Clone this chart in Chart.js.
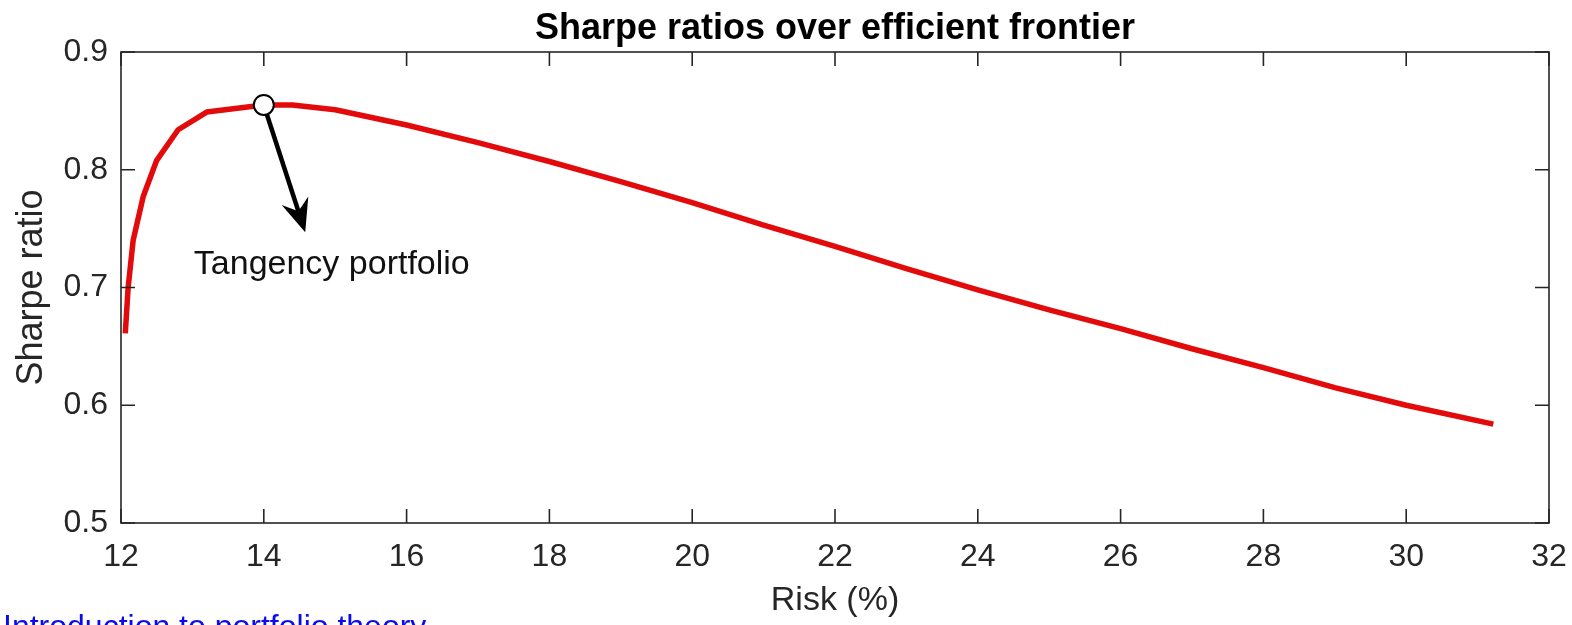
<!DOCTYPE html>
<html><head><meta charset="utf-8">
<script src="https://cdn.jsdelivr.net/npm/chart.js@4"></script>
<style>
html,body{margin:0;padding:0;background:#fff;overflow:hidden}
#wrap{position:relative;width:1572px;height:625px}
#link{position:absolute;left:3px;top:610px;font-family:"Liberation Sans",Arial,Helvetica,sans-serif;font-size:32px;line-height:32px;color:#0a0aee;white-space:nowrap;text-decoration:underline}
</style></head><body>
<div id="wrap"><canvas id="c" width="1572" height="625"></canvas>
<div id="link">Introduction to portfolio theory</div></div>
<script>
const riskPct = [12.06, 12.10, 12.17, 12.31, 12.50, 12.80, 13.20, 14.00, 14.40, 15.00, 16.00, 17.00, 18.00, 19.00, 20.00, 21.00, 22.00, 23.00, 24.00, 25.00, 26.00, 27.00, 28.00, 29.00, 30.00, 31.22];
const sharpe  = [0.661, 0.700, 0.740, 0.777, 0.808, 0.834, 0.849, 0.855, 0.855, 0.851, 0.838, 0.823, 0.807, 0.790, 0.772, 0.753, 0.735, 0.716, 0.698, 0.681, 0.665, 0.648, 0.632, 0.615, 0.600, 0.584];
const xTicks = [12, 14, 16, 18, 20, 22, 24, 26, 28, 30, 32];
const yTicks = [0.5, 0.6, 0.7, 0.8, 0.9];
const tangencyRisk = 14.0;
const tangencySharpe = 0.855;
const titleText = 'Sharpe ratios over efficient frontier';
const xLabel = 'Risk (%)';
const yLabel = 'Sharpe ratio';
const noteText = 'Tangency portfolio';
const noteAt = [13.02, 0.7115];
const arrowTip = [14.58, 0.747];

const FAM = '"Liberation Sans", Arial, Helvetica, sans-serif';
const AX = '#262626';

const deco = {
  id: 'deco',
  beforeDatasetsDraw(chart) {
    const ctx = chart.ctx, x = chart.scales.x, y = chart.scales.y;
    const x0 = x.getPixelForValue(tangencyRisk), y0 = y.getPixelForValue(tangencySharpe);
    const x1 = x.getPixelForValue(arrowTip[0]), y1 = y.getPixelForValue(arrowTip[1]);
    const dx = x1 - x0, dy = y1 - y0, L = Math.hypot(dx, dy);
    const ux = dx / L, uy = dy / L, nx = -uy, ny = ux;
    const hl = 33, hw = 14, notch = 22;
    ctx.save();
    ctx.strokeStyle = '#000'; ctx.lineWidth = 4.5;
    ctx.beginPath(); ctx.moveTo(x0, y0);
    ctx.lineTo(x1 - ux * notch, y1 - uy * notch); ctx.stroke();
    ctx.fillStyle = '#000';
    ctx.beginPath();
    ctx.moveTo(x1, y1);
    ctx.lineTo(x1 - ux * hl + nx * hw, y1 - uy * hl + ny * hw);
    ctx.lineTo(x1 - ux * notch, y1 - uy * notch);
    ctx.lineTo(x1 - ux * hl - nx * hw, y1 - uy * hl - ny * hw);
    ctx.closePath(); ctx.fill();
    ctx.restore();
  },
  afterDraw(chart) {
    const ctx = chart.ctx, a = chart.chartArea, x = chart.scales.x, y = chart.scales.y;
    ctx.save();
    ctx.strokeStyle = AX; ctx.lineWidth = 1.6;
    ctx.strokeRect(a.left, a.top, a.right - a.left, a.bottom - a.top);
    const tl = 14;
    ctx.beginPath();
    xTicks.forEach(v => {
      const p = x.getPixelForValue(v);
      ctx.moveTo(p, a.bottom); ctx.lineTo(p, a.bottom - tl);
      ctx.moveTo(p, a.top); ctx.lineTo(p, a.top + tl);
    });
    yTicks.forEach(v => {
      const p = y.getPixelForValue(v);
      ctx.moveTo(a.left, p); ctx.lineTo(a.left + tl, p);
      ctx.moveTo(a.right, p); ctx.lineTo(a.right - tl, p);
    });
    ctx.stroke();
    ctx.fillStyle = '#000';
    ctx.font = 'bold 36px ' + FAM;
    ctx.textAlign = 'center'; ctx.textBaseline = 'alphabetic';
    ctx.fillText(titleText, (a.left + a.right) / 2, 39);
    ctx.font = '34px ' + FAM;
    ctx.textAlign = 'left';
    ctx.fillStyle = '#111';
    ctx.fillText(noteText, x.getPixelForValue(noteAt[0]), y.getPixelForValue(noteAt[1]));
    ctx.restore();
  }
};

new Chart(document.getElementById('c'), {
  type: 'scatter',
  data: {
    datasets: [
      {
        data: riskPct.map((r, i) => ({ x: r, y: sharpe[i] })),
        showLine: true, borderColor: '#e20a0a', borderWidth: 5.5, order: 1,
        pointRadius: 0, tension: 0, fill: false, borderJoinStyle: 'round'
      },
      {
        data: [{ x: tangencyRisk, y: tangencySharpe }], order: 0,
        showLine: false, pointRadius: 10, pointBackgroundColor: '#fff',
        pointBorderColor: '#000', pointBorderWidth: 2
      }
    ]
  },
  options: {
    responsive: false, animation: false, devicePixelRatio: 1,
    layout: { padding: { left: 0, right: 23, top: 52, bottom: 0 } },
    plugins: { legend: { display: false }, tooltip: { enabled: false }, title: { display: false } },
    scales: {
      x: {
        type: 'linear', min: 12, max: 32,
        afterBuildTicks: s => { s.ticks = xTicks.map(v => ({ value: v })); },
        afterFit: s => { s.height = 102; s.paddingLeft = 0; s.paddingRight = 0; },
        grid: { display: false, drawTicks: false }, border: { display: false },
        ticks: { font: { size: 32, family: FAM }, color: AX, padding: 15, maxRotation: 0, autoSkip: false, callback: v => String(v) },
        title: { display: true, text: xLabel, color: AX, font: { size: 34, family: FAM }, padding: { top: 0, bottom: 4 } }
      },
      y: {
        type: 'linear', min: 0.5, max: 0.9,
        afterBuildTicks: s => { s.ticks = yTicks.map(v => ({ value: v })); },
        afterFit: s => { s.width = 121; s.paddingTop = 0; s.paddingBottom = 0; },
        grid: { display: false, drawTicks: false }, border: { display: false },
        ticks: { font: { size: 32, family: FAM }, color: AX, padding: 13, autoSkip: false, callback: v => Number(v).toFixed(1) },
        title: { display: true, text: yLabel, color: AX, font: { size: 36, family: FAM }, padding: { top: 10, bottom: 0 } }
      }
    }
  },
  plugins: [deco]
});
</script>
</body></html>
